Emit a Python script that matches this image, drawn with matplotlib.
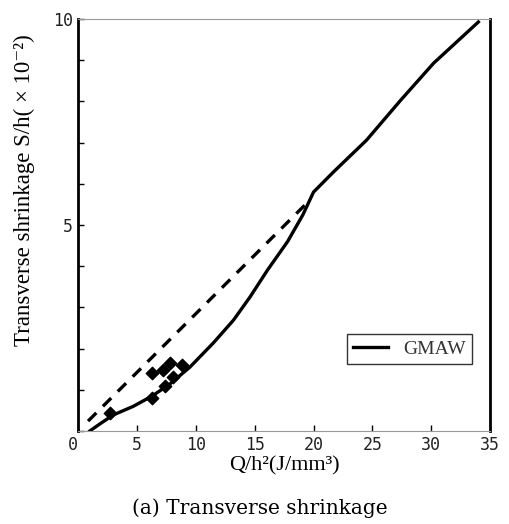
import matplotlib.pyplot as plt

# GMAW calculated curve
curveX = [1.0, 2.0, 3.0, 4.7, 6.3, 7.8, 9.5, 11.5, 13.2, 14.6, 16.1, 17.8, 19.1, 20.0, 21.7, 24.5, 27.4, 30.2, 34.0]
curveY = [0.0, 0.2, 0.39, 0.6, 0.85, 1.14, 1.55, 2.14, 2.69, 3.25, 3.91, 4.6, 5.25, 5.8, 6.29, 7.06, 8.03, 8.93, 9.93]

# dashed reference line
dashX = [0.85, 19.6]
dashY = [0.24, 5.58]

# measured points
ptX = [2.7, 6.3, 6.3, 7.2, 7.8, 8.8, 8.1, 7.4]
ptY = [0.44, 1.4, 0.8, 1.48, 1.65, 1.6, 1.3, 1.1]

fig = plt.figure(figsize=(5.1, 5.24), dpi=100)
ax = fig.add_axes([0.153, 0.1775, 0.808, 0.786])

ax.plot(curveX, curveY, color='black', lw=2.4, label='GMAW')
ax.plot(dashX, dashY, color='black', lw=2.4, linestyle=(0, (3.5, 2.8)))
ax.scatter(ptX, ptY, marker='D', s=40, color='black', zorder=3)

ax.set_xlim(0, 35)
ax.set_ylim(0, 10)
ax.set_xticks([0, 5, 10, 15, 20, 25, 30, 35])
ax.set_yticks([5, 10])
ax.set_yticks(range(0, 11), minor=True)
ax.tick_params(direction='in', length=4, width=1, labelsize=12, labelcolor='#222222')
ax.tick_params(which='minor', direction='in', length=4, width=1)
for lab in ax.get_xticklabels() + ax.get_yticklabels():
    lab.set_family('DejaVu Sans Mono')
ax.get_xticklabels()[0].set_ha('right')

ax.spines['left'].set_linewidth(2)
ax.spines['right'].set_linewidth(2)
ax.spines['top'].set_color('#999999')
ax.spines['bottom'].set_color('#999999')

serif = ['Liberation Serif', 'DejaVu Serif']
ax.set_xlabel('Q/h²(J/mm³)', family=serif, fontsize=16, labelpad=2)
ax.set_ylabel('Transverse shrinkage S/h( × 10⁻²)', family=serif, fontsize=16.5)
ax.yaxis.set_label_coords(-0.105, 0.585)

leg = ax.legend(loc='lower right', bbox_to_anchor=(0.98, 0.14), fancybox=False,
                prop={'family': 'Liberation Serif', 'size': 14}, handlelength=1.8,
                borderpad=0.3)
leg.get_frame().set_edgecolor('black')
leg.get_frame().set_linewidth(1)
for t in leg.get_texts():
    t.set_color('#333333')

fig.text(0.51, 0.012, '(a) Transverse shrinkage', ha='center', va='bottom',
         family='DejaVu Serif', fontsize=14.5)

plt.savefig('out.png')
